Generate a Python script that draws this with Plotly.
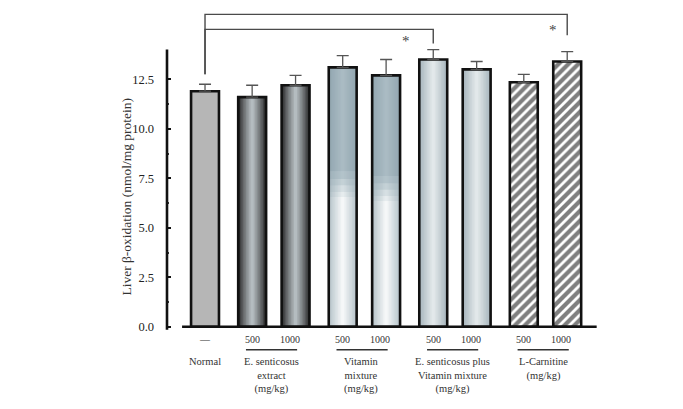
import plotly.graph_objects as go

# ---------------- data ----------------
group_names = ["Normal", "E. senticosus<br>extract<br>(mg/kg)", "Vitamin<br>mixture<br>(mg/kg)",
               "E. senticosus plus<br>Vitamin mixture<br>(mg/kg)", "L-Carnitine<br>(mg/kg)"]
group_sizes = [1, 2, 2, 2, 2]
doses = ["—", "500", "1000", "500", "1000", "500", "1000", "500", "1000"]
values = [11.9, 11.6, 12.2, 13.1, 12.7, 13.5, 13.0, 12.35, 13.4]
errors = [0.35, 0.6, 0.5, 0.6, 0.8, 0.5, 0.4, 0.4, 0.5]
styles = ["solid", "dark", "dark", "radial", "radial", "light", "light", "hatch", "hatch"]
y_ticks = [0.0, 2.5, 5.0, 7.5, 10.0, 12.5]
y_title = "Liver β-oxidation (nmol/mg protein)"
# significance comparisons: (from bar, to bar, label)
comparisons = [(0, 5, "*"), (0, 8, "*")]

# ---------------- layout helpers ----------------
PITCH_IN, PITCH_OUT = 1.40, 1.52
xpos = []
groups_idx = []
cur = 0.0
k = 0
for gi, n in enumerate(group_sizes):
    idx = []
    for j in range(n):
        if k > 0:
            cur += PITCH_IN if j > 0 else PITCH_OUT
        xpos.append(cur)
        idx.append(k)
        k += 1
    groups_idx.append(idx)

W = 0.9
fig = go.Figure()


def hexmix(c1, c2, t):
    a = [int(c1[i:i + 2], 16) for i in (1, 3, 5)]
    b = [int(c2[i:i + 2], 16) for i in (1, 3, 5)]
    return "#%02x%02x%02x" % tuple(round(a[i] + (b[i] - a[i]) * t) for i in range(3))


def add_bar(x, top, base, width, color, pattern=None):
    m = dict(color=color, line=dict(width=0))
    if pattern:
        m["pattern"] = pattern
    fig.add_trace(go.Bar(x=[x], y=[top - base], base=[base], width=[width], marker=m,
                         showlegend=False, hoverinfo="skip"))


N = 9
for i, (x, v, s) in enumerate(zip(xpos, values, styles)):
    if s == "solid":
        add_bar(x, v, 0, W, "#b6b6b6")
    elif s == "dark":
        for L in range(N):
            t = L / (N - 1)
            add_bar(x, v, 0, W * (1 - L / N), hexmix("#262626", "#b4bcc0", t ** 0.8))
    elif s == "light":
        for L in range(N):
            t = L / (N - 1)
            add_bar(x, v, 0, W * (1 - L / N), hexmix("#a9b7be", "#e2e8ea", t))
    elif s == "radial":
        for L in range(N):
            t = L / (N - 1)
            add_bar(x, v, 0, W * (1 - L / N), hexmix("#93a7b1", "#aabbc3", t))
        # vertical fade from bluish top to white lower half, each band a horizontal gradient
        bands = [(0.60, "#9fb1ba", "#b3c3ca"), (0.57, "#a6b7bf", "#c4d1d6"),
                 (0.545, "#acbcc3", "#d6dfe3"), (0.52, "#b2c0c7", "#e6ecee"),
                 (0.50, "#b8c5cb", "#f5f7f8")]
        for frac, ce, cc in bands:
            for L in range(N):
                t = L / (N - 1)
                add_bar(x, v * frac, 0, W * (1 - L / N), hexmix(ce, cc, t))
    elif s == "hatch":
        add_bar(x, v, 0, W, "white",
                pattern=dict(shape="/", fgcolor="#000000", bgcolor="white", size=7, solidity=0.6))

# outline + error bars
fig.add_trace(go.Bar(
    x=xpos, y=values, width=[W] * len(values),
    marker=dict(color="rgba(0,0,0,0)", line=dict(color="#111111", width=2.6)),
    error_y=dict(type="data", symmetric=False, array=errors, arrayminus=[0] * len(errors),
                 color="#555555", thickness=1.3, width=6),
    showlegend=False, hoverinfo="skip"))

shapes = []
# custom y axis line and x baseline
shapes.append(dict(type="line", xref="paper", yref="y", x0=0, x1=0, y0=-0.15, y1=14.0,
                   line=dict(color="#111111", width=2.6)))
shapes.append(dict(type="line", xref="x", yref="y", x0=xpos[0] - 0.74, x1=xpos[-1] + 0.95,
                   y0=0, y1=0, line=dict(color="#111111", width=2.6)))

# significance brackets
bracket_levels = [15.02, 15.78]
drop_ends = [14.31, 14.72]
annotations = []
for (a, b, lab), lvl, dend, off in zip(comparisons, bracket_levels, drop_ends, [-0.87, -0.45]):
    shapes.append(dict(type="path", xref="x", yref="y",
                       path=f"M {xpos[a]},12.75 L {xpos[a]},{lvl} L {xpos[b]},{lvl} L {xpos[b]},{dend}",
                       line=dict(color="#4a4a4a", width=1.4)))
    annotations.append(dict(x=xpos[b] + off, y=(dend + lvl) / 2 - 0.25, xref="x", yref="y",
                            text=lab, showarrow=False,
                            font=dict(family="Liberation Serif", size=15, color="#444444")))

# dose labels
for i, (x, d) in enumerate(zip(xpos, doses)):
    annotations.append(dict(x=x, y=-0.65, xref="x", yref="y", text=d, showarrow=False,
                            xshift=(-6 if d == "1000" else 0),
                            font=dict(family="Liberation Serif", size=10, color="#333333")))

# group underlines and names
for gi, idx in enumerate(groups_idx):
    gx = sum(xpos[i] for i in idx) / len(idx)
    if len(idx) > 1:
        shapes.append(dict(type="line", xref="x", yref="y", x0=xpos[idx[0]] - 0.2,
                           x1=xpos[idx[-1]] + 0.05, y0=-1.16, y1=-1.16,
                           line=dict(color="#333333", width=1.3)))
    annotations.append(dict(x=gx - (0.08 if len(idx) > 1 else 0), y=-1.38, xref="x", yref="y",
                            yanchor="top", text=group_names[gi], showarrow=False,
                            font=dict(family="Liberation Serif", size=10.5, color="#333333")))

# y title
annotations.append(dict(x=0, y=6.55, xref="paper", yref="y", xshift=-50, text=y_title,
                        textangle=-90, showarrow=False,
                        font=dict(family="Liberation Serif", size=13.5, color="#333333")))

fig.update_layout(
    width=683, height=409, barmode="overlay",
    margin=dict(l=159, r=81, t=2, b=10.6),
    paper_bgcolor="white", plot_bgcolor="white",
    xaxis=dict(range=[-1.226, 13.06], showticklabels=False, showgrid=False, zeroline=False,
               showline=False, ticks=""),
    yaxis=dict(range=[-4, 16], tickvals=y_ticks, ticktext=[f"{t:.1f}" for t in y_ticks],
               ticks="inside", ticklen=4, tickwidth=2, tickcolor="#111111",
               ticklabelstandoff=12,
               minor=dict(tickvals=[1.25, 3.75, 6.25, 8.75, 11.25], ticks="inside", ticklen=2,
                          tickwidth=1.5, tickcolor="#333333"),
               showgrid=False, zeroline=False, showline=False,
               tickfont=dict(family="Liberation Serif", size=12.5, color="#222222")),
    shapes=shapes, annotations=annotations,
)

fig.write_html("out.html")
